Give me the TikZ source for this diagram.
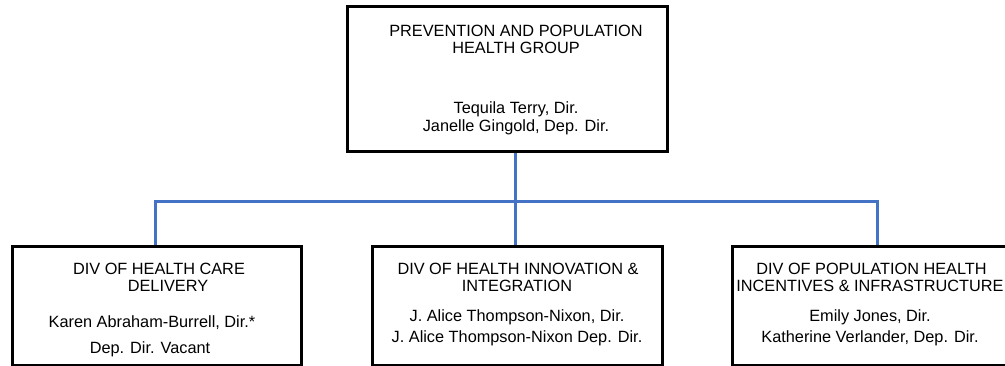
\documentclass[tikz,border=0pt]{standalone}
\usepackage{fontspec}
\setmainfont{Liberation Sans}
\definecolor{linkblue}{HTML}{4472C4}
\begin{document}
\begin{tikzpicture}[x=1pt,y=-1pt,
  orgbox/.style={draw=black, line width=3pt, fill=white, inner sep=0pt},
  txt/.style={anchor=base, inner sep=0pt, font=\fontsize{16.3}{19}\selectfont},
  link/.style={draw=linkblue, line width=3pt}]
\useasboundingbox (0,0) rectangle (1005,366);
\begin{scope}
\clip (0,0) rectangle (1005,366);
\coordinate (trunk) at (515,202);
\node[orgbox, minimum width=320pt, minimum height=145pt] (top) at (507,79.5) {};
\node[orgbox, minimum width=289pt, minimum height=119pt] (left) at (156.5,306.5) {};
\node[orgbox, minimum width=290pt, minimum height=119pt] (mid) at (517,306.5) {};
\node[orgbox, minimum width=290pt, minimum height=119pt] (right) at (877,306.5) {};
% connectors
\draw[link] (top.south -| trunk) -- (trunk |- mid.north);
\draw[link] (left.north -| 155,0) -- (trunk -| 155,0) -- (trunk -| right.north) -- (right.north);
% top text
\node[txt] (t1) at (516,37) {PREVENTION AND POPULATION};
\node[txt] (t2) at (516,54) {HEALTH GROUP};
\node[txt] (t3) at (516,114) {Tequila Terry, Dir.};
\node[txt] (t4) at (516,132) {Janelle Gingold, Dep. Dir.};
% left
\node[txt] (l1) at (159,275) {DIV OF HEALTH CARE};
\node[txt] (l2) at (168,292) {DELIVERY};
\node[txt] (l3) at (152,328) {Karen Abraham-Burrell, Dir.*};
\node[txt] (l4) at (150,353) {Dep. Dir. Vacant};
% middle
\node[txt] (m1) at (518,275) {DIV OF HEALTH INNOVATION \&};
\node[txt] (m2) at (517,292) {INTEGRATION};
\node[txt] (m3) at (517,322) {J. Alice Thompson-Nixon, Dir.};
\node[txt] (m4) at (517,342) {J. Alice Thompson-Nixon Dep. Dir.};
% right
\node[txt] (r1) at (871.5,275) {DIV OF POPULATION HEALTH};
\node[txt] (r2) at (870,292) {INCENTIVES \& INFRASTRUCTURE};
\node[txt] (r3) at (870,322) {Emily Jones, Dir.};
\node[txt] (r4) at (870,342) {Katherine Verlander, Dep. Dir.};
\end{scope}
\end{tikzpicture}
\end{document}
